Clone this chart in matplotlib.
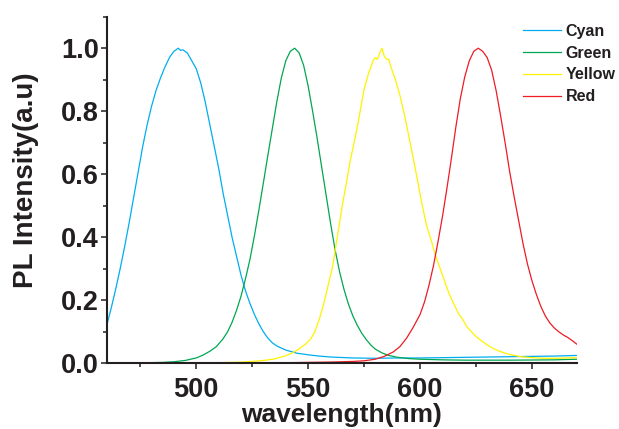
import matplotlib
matplotlib.use("Agg")
import matplotlib.pyplot as plt
from matplotlib.ticker import MultipleLocator

# wavelength (nm) / normalised PL intensity
cyan_wl = [460, 462, 464, 466, 468, 470, 472, 474, 476, 478, 480, 482, 484, 486,
           488, 490, 491, 492, 493, 494, 496, 498, 500, 502, 504, 506, 508, 510,
           512, 514, 516, 518, 520, 522, 524, 526, 528, 530, 532, 534, 536, 540,
           545, 550, 555, 560, 570, 580, 590, 600, 610, 620, 630, 640, 650, 660, 670]
cyan_int = [0.12, 0.175, 0.235, 0.30, 0.37, 0.445, 0.525, 0.605, 0.685, 0.755, 0.815, 0.865, 0.905, 0.94,
            0.97, 0.99, 0.995, 1.0, 0.993, 0.995, 0.985, 0.96, 0.935, 0.89, 0.83, 0.76, 0.69, 0.62,
            0.54, 0.47, 0.40, 0.34, 0.28, 0.23, 0.19, 0.155, 0.125, 0.10, 0.08, 0.065, 0.055, 0.042,
            0.032, 0.027, 0.023, 0.02, 0.017, 0.016, 0.017, 0.017, 0.018, 0.019, 0.02, 0.021, 0.022, 0.023, 0.025]

green_wl = [479, 485, 490, 495, 500, 503, 506, 509, 512, 514, 516, 518, 520, 522, 524,
            526, 528, 530, 532, 534, 536, 538, 540, 542, 544, 546, 548, 550, 552, 554,
            556, 558, 560, 562, 564, 566, 568, 570, 572, 574, 576, 578, 580, 583, 586,
            590, 595, 600, 610, 620, 640, 660, 670]
green_int = [0.002, 0.003, 0.005, 0.009, 0.017, 0.026, 0.038, 0.053, 0.078, 0.10, 0.13, 0.168, 0.213, 0.268, 0.33,
             0.405, 0.487, 0.573, 0.66, 0.745, 0.83, 0.905, 0.96, 0.99, 1.0, 0.985, 0.945, 0.88, 0.80, 0.715,
             0.625, 0.535, 0.445, 0.362, 0.292, 0.235, 0.188, 0.15, 0.12, 0.095, 0.075, 0.058, 0.045, 0.033, 0.025,
             0.019, 0.015, 0.013, 0.011, 0.010, 0.010, 0.011, 0.013]

yellow_wl = [509, 515, 520, 525, 530, 535, 540, 543, 546, 549, 551, 553, 555, 557, 559,
             561, 563, 565, 567, 569, 571, 573, 575, 577, 579, 580, 581, 582, 583, 584,
             585, 586, 587, 589, 591, 593, 595, 597, 599, 601, 603, 605, 607, 609, 611,
             613, 615, 617, 619, 621, 623, 625, 627, 630, 633, 636, 640, 645, 650, 655,
             660, 665, 670]
yellow_int = [0.002, 0.003, 0.004, 0.006, 0.009, 0.014, 0.024, 0.033, 0.046, 0.062, 0.076, 0.10, 0.14, 0.19, 0.25,
              0.31, 0.40, 0.49, 0.57, 0.65, 0.715, 0.79, 0.87, 0.92, 0.96, 0.97, 0.965, 0.985, 1.0, 0.975,
              0.965, 0.965, 0.94, 0.90, 0.85, 0.79, 0.72, 0.65, 0.575, 0.50, 0.435, 0.39, 0.34, 0.30, 0.26,
              0.22, 0.19, 0.16, 0.14, 0.115, 0.10, 0.085, 0.074, 0.058, 0.046, 0.037, 0.028, 0.021, 0.018, 0.016,
              0.016, 0.017, 0.018]

red_wl = [529, 540, 550, 560, 570, 575, 580, 584, 588, 591, 594, 597, 600, 602, 604,
          606, 608, 610, 612, 614, 616, 618, 620, 622, 624, 626, 628, 630, 632, 634,
          636, 638, 640, 642, 644, 646, 648, 650, 652, 654, 656, 658, 660, 662, 664,
          666, 668, 670]
red_int = [0.002, 0.002, 0.003, 0.004, 0.006, 0.008, 0.013, 0.022, 0.036, 0.053, 0.08, 0.115, 0.155, 0.195, 0.248,
           0.31, 0.385, 0.465, 0.555, 0.65, 0.75, 0.84, 0.91, 0.96, 0.99, 1.0, 0.99, 0.97, 0.93, 0.865,
           0.785, 0.70, 0.61, 0.53, 0.455, 0.38, 0.315, 0.262, 0.218, 0.18, 0.15, 0.128, 0.112, 0.10, 0.09,
           0.082, 0.072, 0.061]

names = ["Cyan", "Green", "Yellow", "Red"]
colors = ["#00aeef", "#00a651", "#fff200", "#ed1c24"]
dark = "#231f20"

plt.rcParams['font.family'] = ['Liberation Sans', 'DejaVu Sans']
plt.rcParams['font.weight'] = 'bold'

fig = plt.figure(figsize=(6.19, 4.29), dpi=100)
ax = fig.add_axes([0.1724, 0.1531, 0.7593, 0.808])

series = [(cyan_wl, cyan_int), (green_wl, green_int), (yellow_wl, yellow_int), (red_wl, red_int)]
for (wl, inten), name, c in zip(series, names, colors):
    ax.plot(wl, inten, color=c, lw=0.9, label=name)

ax.set_xlim(460, 670)
ax.set_ylim(0, 1.1)
ax.xaxis.set_major_locator(MultipleLocator(50))
ax.xaxis.set_minor_locator(MultipleLocator(25))
ax.yaxis.set_major_locator(MultipleLocator(0.2))
ax.yaxis.set_minor_locator(MultipleLocator(0.1))
ax.yaxis.set_major_formatter(plt.FuncFormatter(lambda v, p: "%.1f" % v))

for s in ["top", "right"]:
    ax.spines[s].set_visible(False)
for s in ["left", "bottom"]:
    ax.spines[s].set_linewidth(1.5)
    ax.spines[s].set_color(dark)

ax.tick_params(which="major", direction="out", length=4.5, width=1.1, color=dark,
               labelsize=19.5, labelcolor=dark)
ax.tick_params(which="minor", direction="out", length=3, width=1.1, color=dark)
ax.tick_params(axis="x", which="major", pad=5)
ax.tick_params(axis="y", which="major", pad=1)

ax.set_xlabel("wavelength(nm)", fontsize=19, fontweight="bold", color=dark, labelpad=0)
ax.set_ylabel("PL Intensity(a.u)", fontsize=20, fontweight="bold", color=dark)
ax.yaxis.set_label_coords(-0.145, 0.527)

fig.legend(loc="upper left", bbox_to_anchor=(522.7 / 619, 1 - 24 / 429),
           frameon=False, borderpad=0, borderaxespad=0, handlelength=2.4,
           handletextpad=0.3, labelspacing=0.42,
           prop={"size": 11.5, "weight": "bold"}, labelcolor=dark)

fig.savefig("out.png", dpi=100)
